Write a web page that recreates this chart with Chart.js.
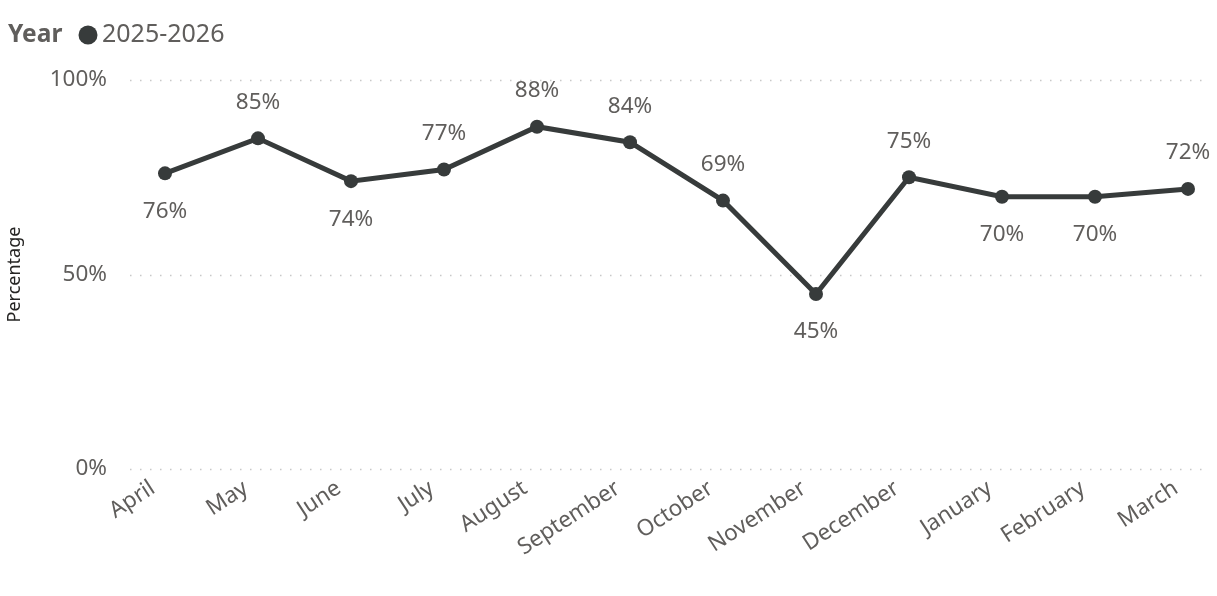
<!DOCTYPE html>
<html>
<head>
<meta charset="utf-8">
<script src="https://cdn.jsdelivr.net/npm/chart.js@4/dist/chart.umd.min.js"></script>
<style>
    html, body { margin: 0; padding: 0; background: #ffffff; }
    #wrap { width: 1217px; height: 596px; }
</style>
</head>
<body>
<div id="wrap"><canvas id="monthlyChart"></canvas></div>
<script>
// Meses del año fiscal y porcentaje de cada mes
const meses = ['April', 'May', 'June', 'July', 'August', 'September', 'October', 'November', 'December', 'January', 'February', 'March'];
const porcentajes = [76, 85, 74, 77, 88, 84, 69, 45, 75, 70, 70, 72];
const serieNombre = '2025-2026';
const yTicks = [0, 50, 100];

const FUENTE = '"Segoe UI", "Noto Sans", "Open Sans", sans-serif';
const GRIS_TEXTO = '#605e5c';
const COLOR_LINEA = '#373b3b';

// Líneas de cuadrícula punteadas que sobresalen del área del gráfico
const gridPunteado = {
    id: 'gridPunteado',
    beforeDatasetsDraw(chart) {
        const { ctx, chartArea, scales } = chart;
        ctx.save();
        ctx.strokeStyle = '#c8c8c8';
        ctx.lineWidth = 1.5;
        ctx.setLineDash([1.5, 8.5]);
        yTicks.forEach(v => {
            const y = Math.round(scales.y.getPixelForValue(v)) + 0.5;
            ctx.beginPath();
            ctx.moveTo(chartArea.left - 35, y);
            ctx.lineTo(chartArea.right + 22, y);
            ctx.stroke();
        });
        ctx.restore();
    }
};

// Etiquetas de valor: debajo del punto si es un mínimo local, encima si no
const etiquetasValor = {
    id: 'etiquetasValor',
    afterDatasetsDraw(chart) {
        const { ctx } = chart;
        const meta = chart.getDatasetMeta(0);
        ctx.save();
        ctx.font = '22.5px ' + FUENTE;
        ctx.fillStyle = GRIS_TEXTO;
        ctx.textAlign = 'center';
        ctx.textBaseline = 'middle';
        meta.data.forEach((pt, i) => {
            const v = porcentajes[i];
            const prev = i > 0 ? porcentajes[i - 1] : Infinity;
            const next = i < porcentajes.length - 1 ? porcentajes[i + 1] : Infinity;
            const abajo = v <= prev && v <= next;
            ctx.fillText(v + '%', pt.x, abajo ? pt.y + 38 : pt.y - 36);
        });
        ctx.restore();
    }
};

// Leyenda "Year ● 2025-2026"
const leyenda = {
    id: 'leyenda',
    afterDraw(chart) {
        const { ctx } = chart;
        ctx.save();
        ctx.textBaseline = 'middle';
        ctx.textAlign = 'left';
        ctx.fillStyle = GRIS_TEXTO;
        ctx.font = 'bold 24.5px ' + FUENTE;
        ctx.fillText('Year', 8, 35);
        ctx.fillStyle = COLOR_LINEA;
        ctx.beginPath();
        ctx.arc(88, 35, 9.5, 0, Math.PI * 2);
        ctx.fill();
        ctx.fillStyle = GRIS_TEXTO;
        ctx.font = '25px ' + FUENTE;
        ctx.fillText(serieNombre, 102, 35);
        ctx.restore();
    }
};

const ctx_mensual = document.getElementById('monthlyChart').getContext('2d');
const mensualChart = new Chart(ctx_mensual, {
    type: 'line',
    data: {
        labels: meses,
        datasets: [{
            label: serieNombre,
            data: porcentajes,
            borderColor: COLOR_LINEA,
            backgroundColor: COLOR_LINEA,
            borderWidth: 5,
            pointRadius: 7,
            pointHoverRadius: 7,
            pointBackgroundColor: COLOR_LINEA,
            pointBorderWidth: 0,
            tension: 0
        }]
    },
    options: {
        responsive: true,
        maintainAspectRatio: false,
        animation: false,
        layout: { padding: { top: 80, right: 29, bottom: 0, left: 0 } },
        plugins: {
            legend: { display: false },
            tooltip: { enabled: false }
        },
        scales: {
            x: {
                grid: { display: false, drawTicks: false },
                border: { display: false },
                ticks: {
                    color: GRIS_TEXTO,
                    font: { family: FUENTE, size: 22.5 },
                    maxRotation: 33,
                    minRotation: 33,
                    autoSkip: false,
                    padding: 6,
                    labelOffset: -12
                },
                afterFit(scale) { scale.height = 127; }
            },
            y: {
                min: 0,
                max: 100,
                grid: { display: false, drawTicks: false },
                border: { display: false },
                afterBuildTicks(scale) { scale.ticks = yTicks.map(v => ({ value: v })); },
                ticks: {
                    color: GRIS_TEXTO,
                    font: { family: FUENTE, size: 22.5 },
                    padding: 58,
                    callback: v => v + '%'
                },
                title: {
                    display: true,
                    text: 'Percentage',
                    color: '#252423',
                    font: { family: FUENTE, size: 18 },
                    padding: { top: 4, bottom: 0 }
                },
                afterFit(scale) { scale.width = 165; }
            }
        }
    },
    plugins: [gridPunteado, etiquetasValor, leyenda]
});
</script>
</body>
</html>
